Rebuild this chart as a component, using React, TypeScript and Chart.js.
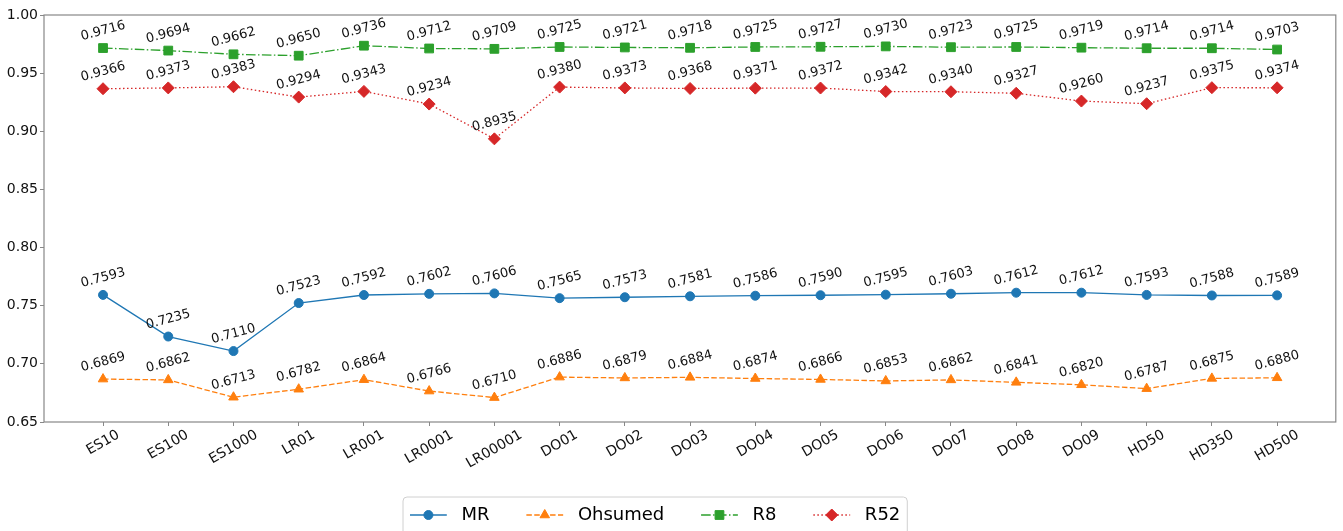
import React, { useEffect, useRef } from 'react';
import { Chart, registerables } from 'chart.js';

Chart.register(...registerables);

const categories = ['ES10', 'ES100', 'ES1000', 'LR01', 'LR001', 'LR0001', 'LR00001', 'DO01', 'DO02', 'DO03', 'DO04', 'DO05', 'DO06', 'DO07', 'DO08', 'DO09', 'HD50', 'HD350', 'HD500'];
const mrValues = [0.7593, 0.7235, 0.7110, 0.7523, 0.7592, 0.7602, 0.7606, 0.7565, 0.7573, 0.7581, 0.7586, 0.7590, 0.7595, 0.7603, 0.7612, 0.7612, 0.7593, 0.7588, 0.7589];
const ohsumedValues = [0.6869, 0.6862, 0.6713, 0.6782, 0.6864, 0.6766, 0.6710, 0.6886, 0.6879, 0.6884, 0.6874, 0.6866, 0.6853, 0.6862, 0.6841, 0.6820, 0.6787, 0.6875, 0.6880];
const r8Values = [0.9716, 0.9694, 0.9662, 0.9650, 0.9736, 0.9712, 0.9709, 0.9725, 0.9721, 0.9718, 0.9725, 0.9727, 0.9730, 0.9723, 0.9725, 0.9719, 0.9714, 0.9714, 0.9703];
const r52Values = [0.9366, 0.9373, 0.9383, 0.9294, 0.9343, 0.9234, 0.8935, 0.9380, 0.9373, 0.9368, 0.9371, 0.9372, 0.9342, 0.9340, 0.9327, 0.9260, 0.9237, 0.9375, 0.9374];
const seriesNames = ['MR', 'Ohsumed', 'R8', 'R52'];
const yMin = 0.65;
const yMax = 1.0;
const yStep = 0.05;

const FONT = '"DejaVu Sans", sans-serif';

const toPoints = (vals: number[]) => vals.map((v, i) => ({ x: i, y: v }));

export default function App() {
  const ref = useRef<HTMLCanvasElement>(null);

  useEffect(() => {
    const canvas = ref.current;
    if (!canvas) return;

    function drawMarker(ctx: CanvasRenderingContext2D, style: string, r: number, x: number, y: number) {
      ctx.beginPath();
      if (style === 'circle') {
        ctx.arc(x, y, r, 0, Math.PI * 2);
      } else if (style === 'triangle') {
        for (let k = 0; k < 3; k++) {
          const ang = k * (2 * Math.PI / 3);
          const px = x + Math.sin(ang) * r;
          const py = y - Math.cos(ang) * r;
          if (k === 0) ctx.moveTo(px, py); else ctx.lineTo(px, py);
        }
        ctx.closePath();
      } else if (style === 'rect') {
        const s = Math.SQRT1_2 * r;
        ctx.rect(x - s, y - s, 2 * s, 2 * s);
      } else {
        ctx.moveTo(x, y - r);
        ctx.lineTo(x + r, y);
        ctx.lineTo(x, y + r);
        ctx.lineTo(x - r, y);
        ctx.closePath();
      }
      ctx.fill();
      ctx.stroke();
    }

    const overlay = {
      id: 'overlay',
      afterDraw(chart: any) {
        const { ctx, chartArea } = chart;
        const xs = chart.scales.x;
        ctx.save();
        // frame
        ctx.strokeStyle = '#888888';
        ctx.lineWidth = 1.2;
        ctx.setLineDash([]);
        ctx.strokeRect(chartArea.left, chartArea.top, chartArea.right - chartArea.left, chartArea.bottom - chartArea.top);

        // x tick labels, rotated 30deg, centred at tick
        ctx.fillStyle = '#111111';
        ctx.font = `14px ${FONT}`;
        ctx.textAlign = 'center';
        ctx.textBaseline = 'middle';
        const a30 = Math.PI / 6;
        categories.forEach((c, i) => {
          const x = xs.getPixelForValue(i);
          const L = ctx.measureText(c).width;
          const h = 14 * 0.73;
          const cy = chartArea.bottom + 7.5 + (L * Math.sin(a30) + h * Math.cos(a30)) / 2;
          ctx.save();
          ctx.translate(x, cy);
          ctx.rotate(-a30);
          ctx.fillText(c, 0, 0);
          ctx.restore();
        });

        // value labels
        const vfs = 13;
        ctx.font = `${vfs}px ${FONT}`;
        const a15 = Math.PI / 12;
        chart.data.datasets.forEach((ds: any, di: number) => {
          const meta = chart.getDatasetMeta(di);
          ds.data.forEach((p: any, i: number) => {
            const el = meta.data[i];
            const txt = p.y.toFixed(4);
            const L = ctx.measureText(txt).width;
            const h = vfs * 0.73;
            const cy = el.y - 6.5 - (L * Math.sin(a15) + h * Math.cos(a15)) / 2;
            ctx.save();
            ctx.translate(el.x, cy);
            ctx.rotate(-a15);
            ctx.fillText(txt, 0, 0);
            ctx.restore();
          });
        });

        // legend
        const fs = 18;
        const sp = 18.4;
        ctx.font = `${fs}px ${FONT}`;
        const handleLen = 2 * sp;
        const textPad = 0.8 * sp;
        const colSpace = 2 * sp;
        const pad = 7;
        const widths = chart.data.datasets.map((ds: any) => ctx.measureText(ds.label).width);
        let total = pad * 2;
        widths.forEach((w: number, i: number) => {
          total += handleLen + textPad + w + (i < widths.length - 1 ? colSpace : 0);
        });
        const boxLeft = 403;
        const boxTop = 497;
        ctx.beginPath();
        ctx.roundRect(boxLeft, boxTop, total, 48, 4);
        ctx.fillStyle = '#ffffff';
        ctx.fill();
        ctx.strokeStyle = '#d0d0d0';
        ctx.lineWidth = 1;
        ctx.stroke();
        const cyL = 515;
        let x = boxLeft + pad;
        chart.data.datasets.forEach((ds: any, i: number) => {
          ctx.strokeStyle = ds.borderColor;
          ctx.lineWidth = ds.borderWidth;
          ctx.setLineDash(ds.borderDash || []);
          ctx.beginPath();
          ctx.moveTo(x, cyL);
          ctx.lineTo(x + handleLen, cyL);
          ctx.stroke();
          ctx.setLineDash([]);
          ctx.fillStyle = ds.backgroundColor;
          ctx.strokeStyle = ds.borderColor;
          ctx.lineWidth = 1;
          drawMarker(ctx, ds.pointStyle, ds.pointRadius, x + handleLen / 2, cyL);
          ctx.fillStyle = '#000000';
          ctx.textAlign = 'left';
          ctx.textBaseline = 'middle';
          ctx.fillText(ds.label, x + handleLen + textPad, cyL);
          x += handleLen + textPad + widths[i] + colSpace;
        });
        ctx.restore();
      },
    };

    const mk = (label: string, vals: number[], color: string, dash: number[], style: string, radius: number) => ({
      label,
      data: toPoints(vals),
      borderColor: color,
      backgroundColor: color,
      borderWidth: 1.3,
      borderDash: dash,
      pointStyle: style,
      pointRadius: radius,
      pointBorderWidth: 1,
      pointBorderColor: color,
      pointBackgroundColor: color,
      tension: 0,
      fill: false,
    });

    const chart = new Chart(canvas, {
      type: 'line',
      data: {
        datasets: [
          mk(seriesNames[0], mrValues, '#1f77b4', [], 'circle', 4.5),
          mk(seriesNames[1], ohsumedValues, '#ff7f0e', [5.5, 2.4], 'triangle', 5.5),
          mk(seriesNames[2], r8Values, '#2ca02c', [9.6, 2.4, 1.5, 2.4], 'rect', 6.2),
          mk(seriesNames[3], r52Values, '#d62728', [1.5, 2.5], 'rectRot', 6),
        ] as any,
      },
      options: {
        responsive: false,
        animation: false,
        devicePixelRatio: 1,
        layout: { padding: { top: 15, right: 2, left: 0, bottom: 0 } },
        plugins: {
          legend: { display: false },
          tooltip: { enabled: false },
        },
        scales: {
          x: {
            type: 'linear',
            min: -0.905,
            max: 18.9,
            afterBuildTicks: (scale: any) => {
              scale.ticks = categories.map((_, i) => ({ value: i }));
            },
            afterFit: (scale: any) => {
              scale.height = 109;
            },
            grid: { display: true, drawOnChartArea: false, drawTicks: true, tickLength: 4, color: '#888888', lineWidth: 1 },
            border: { display: false },
            ticks: { display: false },
          },
          y: {
            type: 'linear',
            min: yMin,
            max: yMax,
            afterBuildTicks: (scale: any) => {
              const t = [];
              for (let v = yMin; v <= yMax + 1e-9; v += yStep) t.push({ value: Math.round(v * 100) / 100 });
              scale.ticks = t;
            },
            afterFit: (scale: any) => {
              scale.width = 44;
            },
            grid: { display: true, drawOnChartArea: false, drawTicks: true, tickLength: 4, color: '#888888', lineWidth: 1 },
            border: { display: false },
            ticks: {
              padding: 2,
              color: '#111111',
              font: { family: FONT, size: 14 },
              callback: (v: any) => Number(v).toFixed(2),
            },
          },
        },
      } as any,
      plugins: [overlay],
    });

    return () => chart.destroy();
  }, []);

  return (
    <div style={{ position: 'fixed', left: 0, top: 0, width: 1343, height: 531, background: '#ffffff' }}>
      <canvas ref={ref} width={1343} height={531} style={{ display: 'block', width: 1343, height: 531 }} />
    </div>
  );
}
